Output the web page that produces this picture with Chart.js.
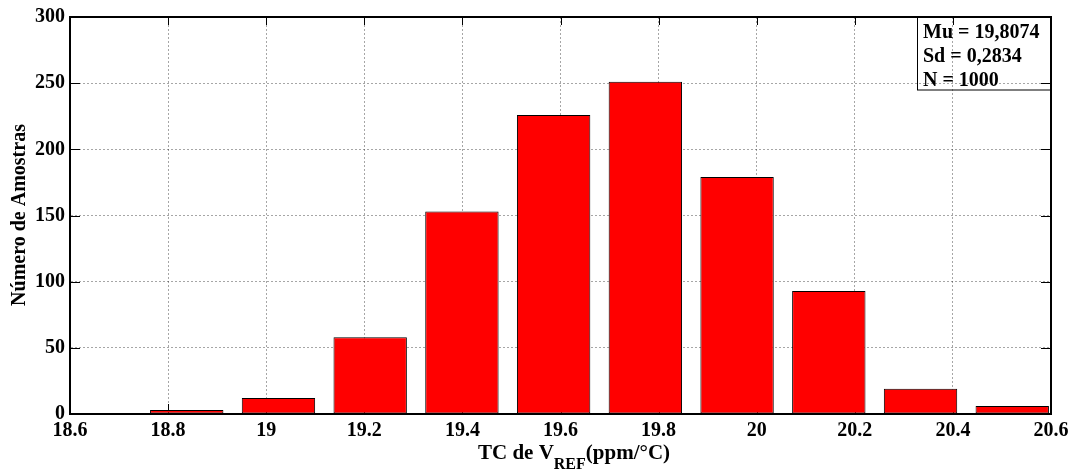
<!DOCTYPE html>
<html>
<head>
<meta charset="utf-8">
<title>TC de VREF</title>
<script src="https://cdn.jsdelivr.net/npm/chart.js@4.4.0/dist/chart.umd.min.js"></script>
<style>
  html, body { margin: 0; padding: 0; background: #fff; }
  #wrap { width: 1079px; height: 470px; }
</style>
</head>
<body>
<div id="wrap"><canvas id="histChart" width="1079" height="470"></canvas></div>
<script>
'use strict'
//////////////////
// Data
//////////////////
const binCenters = [18.838, 19.025, 19.212, 19.399, 19.586, 19.773, 19.960, 20.147, 20.334, 20.521];
const sampleCounts = [3, 12, 58, 153, 226, 251, 179, 93, 19, 6];
const xRange = [18.6, 20.6];
const yRange = [0, 300];
const statLines = ['Mu = 19,8074', 'Sd = 0,2834', 'N = 1000'];
const yTitle = 'Número de Amostras';
const xTitleParts = ['TC de V', 'REF', '(ppm/°C)'];

const serif = '"Liberation Serif", "Times New Roman", serif';

//////////////////
// Plugins
//////////////////
// inward tick marks, drawn under the bars
const innerTicks = {
  id: 'innerTicks',
  beforeDatasetsDraw(chart) {
    const {ctx, chartArea: a, scales: {x, y}} = chart;
    ctx.save();
    ctx.strokeStyle = '#000';
    ctx.lineWidth = 1;
    ctx.beginPath();
    for (const t of x.ticks) {
      const px = Math.round(x.getPixelForValue(t.value)) + 0.5;
      ctx.moveTo(px, a.bottom); ctx.lineTo(px, a.bottom - 10);
      ctx.moveTo(px, a.top); ctx.lineTo(px, a.top + 8);
    }
    for (const t of y.ticks) {
      const py = Math.round(y.getPixelForValue(t.value)) + 0.5;
      ctx.moveTo(a.left, py); ctx.lineTo(a.left + 10, py);
      ctx.moveTo(a.right, py); ctx.lineTo(a.right - 10, py);
    }
    ctx.stroke();
    ctx.restore();
  }
};

// frame, stats box and axis titles
const frameAndText = {
  id: 'frameAndText',
  afterDraw(chart) {
    const {ctx, chartArea: a} = chart;
    ctx.save();
    ctx.strokeStyle = '#000';
    ctx.lineWidth = 2;
    ctx.strokeRect(a.left, a.top, a.right - a.left, a.bottom - a.top);

    // stats box in the top right corner
    ctx.lineWidth = 1;
    ctx.strokeRect(917.5, a.top, a.right - 917.5, 73);
    ctx.fillStyle = '#000';
    ctx.font = 'bold 20px ' + serif;
    ctx.textAlign = 'left';
    ctx.textBaseline = 'alphabetic';
    statLines.forEach((line, i) => ctx.fillText(line, 923, 38 + i * 24));

    // y title, rotated
    ctx.save();
    ctx.translate(25, 215);
    ctx.rotate(-Math.PI / 2);
    ctx.textAlign = 'center';
    ctx.fillText(yTitle, 0, 0);
    ctx.restore();

    // x title with subscript
    const mainFont = 'bold 21px ' + serif;
    const subFont = 'bold 16px ' + serif;
    ctx.font = mainFont;
    const w0 = ctx.measureText(xTitleParts[0]).width;
    const w2 = ctx.measureText(xTitleParts[2]).width;
    ctx.font = subFont;
    const w1 = ctx.measureText(xTitleParts[1]).width;
    let cx = 574 - (w0 + w1 + w2) / 2;
    ctx.font = mainFont;
    ctx.fillText(xTitleParts[0], cx, 459);
    cx += w0;
    ctx.font = subFont;
    ctx.fillText(xTitleParts[1], cx, 469);
    cx += w1;
    ctx.font = mainFont;
    ctx.fillText(xTitleParts[2], cx, 459);
    ctx.restore();
  }
};

//////////////////
// Chart
//////////////////
const tickFont = {family: serif, size: 20, weight: 'bold'};
const gridStyle = {color: 'rgba(0,0,0,0.35)', lineWidth: 1, drawTicks: false};

const config = {
  type: 'bar',
  data: {
    datasets: [{
      data: binCenters.map((c, i) => ({x: c, y: sampleCounts[i]})),
      backgroundColor: '#ff0000',
      borderColor: '#000',
      borderWidth: 1,
      borderSkipped: false,
      barPercentage: 0.8,
      categoryPercentage: 1
    }]
  },
  options: {
    responsive: false,
    animation: false,
    layout: {padding: {top: 16, right: 28, left: 0, bottom: 0}},
    plugins: {legend: {display: false}, tooltip: {enabled: false}},
    scales: {
      x: {
        type: 'linear',
        min: xRange[0],
        max: xRange[1],
        offset: false,
        grid: Object.assign({offset: false}, gridStyle),
        border: {display: true, color: '#000', width: 1, dash: [2, 2]},
        ticks: {
          stepSize: 0.2,
          autoSkip: false,
          maxRotation: 0,
          padding: 5,
          color: '#000',
          font: tickFont,
          callback: v => String(+v.toFixed(1))
        },
        afterFit: s => { s.height = 56; }
      },
      y: {
        min: yRange[0],
        max: yRange[1],
        grid: gridStyle,
        border: {display: true, color: '#000', width: 1, dash: [2, 2]},
        ticks: {stepSize: 50, padding: 5, color: '#000', font: tickFont},
        afterFit: s => { s.width = 70; }
      }
    }
  },
  plugins: [innerTicks, frameAndText]
};

new Chart(document.getElementById('histChart'), config);
</script>
</body>
</html>
